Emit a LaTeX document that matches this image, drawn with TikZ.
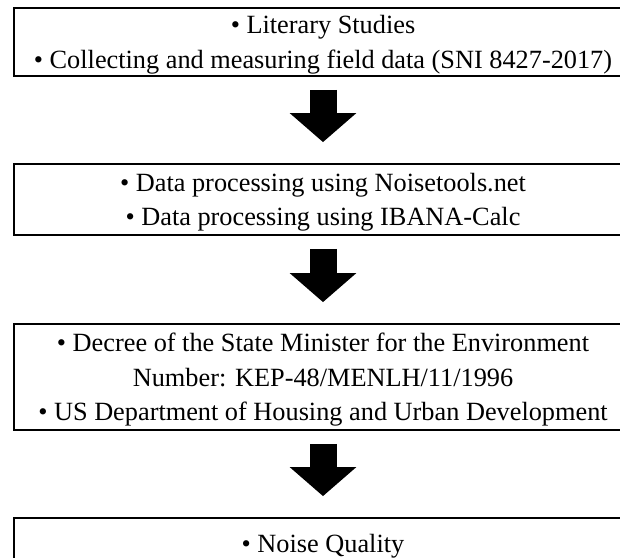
\documentclass[tikz,border=0pt]{standalone}
\usepackage{fontspec}
\setmainfont{Liberation Serif}
\usetikzlibrary{arrows.meta}

\begin{document}
\begin{tikzpicture}[x=1pt, y=1pt,
    stage/.style={draw, line width=1.8pt, minimum width=618pt, align=center,
      inner sep=0pt, text depth=-5pt, font=\fontsize{26.3}{34.5}\selectfont},
    flow/.style={-{Triangle[width=65pt,length=29pt]}, line width=27pt,
      shorten <=13pt, shorten >=21pt}]
    \useasboundingbox (0,0) rectangle (620,-557);

    % Stages of the study
    \node[stage, minimum height=68pt] (survey) at (323,-42)
      {• Literary Studies\\
       • Collecting and measuring field data (SNI 8427-2017)};
    \node[stage, minimum height=71pt] (process) at (323,-199.5)
      {• Data processing using Noisetools.net\\
       • Data processing using IBANA-Calc};
    \node[stage, minimum height=106pt] (standard) at (323,-377)
      {• Decree of the State Minister for the Environment\\
       Number: KEP-48/MENLH/11/1996\\
       • US Department of Housing and Urban Development};
    \node[stage, text depth=0pt, minimum height=50pt] (result) at (323,-543)
      {• Noise Quality};

    % Block arrows between the stages
    \draw[flow] (survey) -- (process);
    \draw[flow] (process) -- (standard);
    \draw[flow] (standard) -- (result);
\end{tikzpicture}
\end{document}
